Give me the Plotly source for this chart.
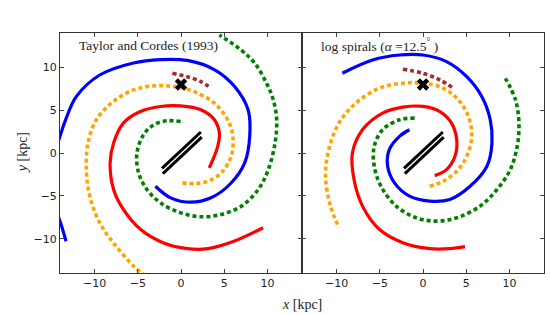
import plotly.graph_objects as go

# ---------------- data (kpc) ----------------
# Left panel: Taylor and Cordes (1993)
TC_BLUE_X = [-2.96, -1.2, 1.13, 3.47, 5.8, 7.37, 7.95, 7.76, 6.2, 3.9, 0.74, -2.4, -5.5, -9.4, -12.1, -13.3, -14.3, -15.0, -15.1, -14.8, -14.07, -13.3]
TC_BLUE_Y = [-3.88, -5.23, -5.74, -5.23, -3.5, -1.16, 1.94, 5.04, 7.75, 9.7, 10.8, 10.9, 10.5, 9.1, 6.6, 4.0, 1.0, -1.5, -4.0, -6.0, -7.75, -10.3]
TC_RED_X = [3.27, 4.25, 4.44, 3.86, 2.3, -0.04, -2.38, -4.7, -6.67, -7.8, -8.2, -7.8, -6.67, -4.7, -2.0, 0.74, 3.08, 6.2, 9.5]
TC_RED_Y = [-1.74, 0.78, 2.33, 3.88, 5.04, 5.5, 5.43, 4.84, 3.49, 1.16, -1.16, -4.26, -6.59, -8.9, -10.5, -11.16, -11.16, -10.27, -8.72]
TC_ORANGE_X = [0.16, 1.52, 3.08, 4.64, 5.8, 6.0, 5.4, 3.86, 1.52, -0.82, -3.16, -5.5, -7.84, -9.8, -10.76, -10.95, -10.56, -9.4, -7.84, -5.5, -4.33]
TC_ORANGE_Y = [-3.49, -3.57, -3.3, -2.33, -0.39, 1.94, 3.88, 5.81, 7.17, 7.75, 7.83, 7.36, 6.0, 3.88, 1.16, -1.94, -5.04, -8.14, -10.47, -13.18, -14.15]
TC_GREEN_X = [-0.04, -1.6, -3.16, -4.33, -5.1, -4.9, -3.94, -2.38, -0.04, 2.3, 4.64, 6.98, 8.93, 10.1, 10.88, 11.07, 10.68, 9.9, 8.54, 6.98, 4.44]
TC_GREEN_Y = [3.68, 3.76, 3.29, 2.13, 0.0, -2.33, -4.26, -5.81, -6.98, -7.44, -7.17, -6.2, -4.26, -1.94, 1.16, 3.88, 6.2, 8.14, 10.47, 12.0, 13.76]
TC_BROWN_X = [-1.0, 0.74, 2.3, 3.47]
TC_BROWN_Y = [9.3, 8.9, 8.33, 7.56]

# Right panel: log spirals (alpha = 12.5 deg)
LS_BLUE_X = [-1.56, -2.72, -3.9, -4.09, -3.3, -1.56, 0.78, 3.1, 5.45, 7.4, 7.98, 7.78, 6.8, 5.06, 2.72, 0.0, -2.72, -5.84, -9.34]
LS_BLUE_Y = [2.71, 1.94, 0.39, -1.55, -3.49, -5.04, -5.62, -5.43, -3.88, -1.55, 1.16, 3.88, 6.59, 8.9, 10.66, 11.43, 11.43, 10.85, 9.3]
LS_RED_X = [1.36, 2.72, 3.7, 3.9, 3.3, 1.95, 0.0, -2.33, -4.67, -7.0, -8.17, -7.98, -7.0, -5.06, -2.33, 0.78, 3.1, 4.86]
LS_RED_Y = [-2.64, -1.94, -0.39, 1.55, 3.49, 4.84, 5.43, 5.35, 4.65, 2.71, 0.0, -3.1, -6.2, -8.9, -10.47, -11.16, -11.16, -10.93]
LS_ORANGE_X = [0.78, 2.33, 3.9, 5.06, 5.64, 5.25, 4.09, 2.33, 0.0, -2.33, -5.06, -7.78, -9.73, -10.9, -11.28, -10.7, -9.73]
LS_ORANGE_Y = [-3.88, -3.3, -2.13, -0.39, 1.94, 4.26, 6.2, 7.56, 8.14, 8.14, 7.56, 5.81, 3.49, 0.39, -2.71, -6.2, -8.72]
LS_GREEN_X = [-0.97, -2.72, -4.67, -5.64, -5.64, -4.86, -3.1, -0.78, 1.56, 3.9, 6.6, 8.56, 10.1, 10.9, 11.1, 10.7, 9.53]
LS_GREEN_Y = [4.07, 3.88, 2.71, 0.78, -1.55, -3.88, -6.2, -7.56, -7.95, -7.56, -6.2, -4.26, -1.94, 0.78, 3.49, 6.2, 8.72]
LS_BROWN_X = [-2.33, 0.0, 1.95, 3.5]
LS_BROWN_Y = [9.77, 9.3, 8.53, 7.56]

# Central bar (two parallel edges) and Sun position
BAR_A_X = [-2.2, 2.3]
BAR_A_Y = [-1.8, 2.45]
BAR_B_X = [-2.1, 2.4]
BAR_B_Y = [-2.4, 1.85]
SUN_X = [0.0]
SUN_Y = [8.0]

PANEL_TITLES = ["Taylor and Cordes (1993)", "log spirals (<i>α</i> =12.5<sup>°</sup> )"]
TICKS = [-10, -5, 0, 5, 10]

# ---------------- figure ----------------
fig = go.Figure()

panels = [
    ("x", "y", [(TC_BLUE_X, TC_BLUE_Y, "blue", "solid"),
                (TC_RED_X, TC_RED_Y, "red", "solid"),
                (TC_ORANGE_X, TC_ORANGE_Y, "orange", "dash"),
                (TC_GREEN_X, TC_GREEN_Y, "green", "dash"),
                (TC_BROWN_X, TC_BROWN_Y, "brown", "dash")]),
    ("x2", "y2", [(LS_BLUE_X, LS_BLUE_Y, "blue", "solid"),
                  (LS_RED_X, LS_RED_Y, "red", "solid"),
                  (LS_ORANGE_X, LS_ORANGE_Y, "orange", "dash"),
                  (LS_GREEN_X, LS_GREEN_Y, "green", "dash"),
                  (LS_BROWN_X, LS_BROWN_Y, "brown", "dash")]),
]

for xa, ya, arms in panels:
    for xs, ys, col, style in arms:
        fig.add_trace(go.Scatter(
            x=xs, y=ys, xaxis=xa, yaxis=ya, mode="lines",
            line=dict(color=col, width=3.2 if style == "solid" else 3.6,
                      shape="spline", smoothing=1.0,
                      dash="solid" if style == "solid" else "4px,3px"),
            showlegend=False, hoverinfo="skip"))
    for bx, by in [(BAR_A_X, BAR_A_Y), (BAR_B_X, BAR_B_Y)]:
        fig.add_trace(go.Scatter(
            x=bx, y=by, xaxis=xa, yaxis=ya, mode="lines",
            line=dict(color="black", width=3.0),
            showlegend=False, hoverinfo="skip"))
    fig.add_trace(go.Scatter(
        x=SUN_X, y=SUN_Y, xaxis=xa, yaxis=ya, mode="markers",
        marker=dict(symbol="x", size=11, color="black",
                    line=dict(width=0)),
        showlegend=False, hoverinfo="skip"))

axis_common = dict(
    range=[-14, 14], tickvals=TICKS, ticks="inside", ticklen=4,
    tickcolor="#444", showline=True, linecolor="#333", linewidth=1,
    mirror="ticks", showgrid=False, zeroline=False,
    tickfont=dict(family="DejaVu Sans", size=11, color="#222"),
)

fig.update_layout(
    width=550, height=315,
    margin=dict(l=60, r=6, t=33, b=42),
    paper_bgcolor="white", plot_bgcolor="white",
    xaxis=dict(domain=[0, 0.5], anchor="y", **axis_common),
    xaxis2=dict(domain=[0.5, 1.0], anchor="y2", **axis_common),
    yaxis=dict(domain=[0, 1], anchor="x", **axis_common),
    yaxis2=dict(domain=[0, 1], anchor="x2", showticklabels=False, **axis_common),
)
fig.update_layout(
    annotations=[
        dict(text=PANEL_TITLES[0], xref="x domain", yref="y domain",
             x=0.072, y=0.95, xanchor="left", yanchor="middle",
             showarrow=False,
             font=dict(family="Liberation Serif", size=13.5, color="#222")),
        dict(text=PANEL_TITLES[1], xref="x2 domain", yref="y2 domain",
             x=0.07, y=0.95, xanchor="left", yanchor="middle",
             showarrow=False,
             font=dict(family="Liberation Serif", size=13.5, color="#222")),
        dict(text="<i>x</i> [kpc]", xref="paper", yref="paper",
             x=0.5, y=-0.09, xanchor="center", yanchor="top",
             showarrow=False,
             font=dict(family="Liberation Serif", size=14, color="#222")),
        dict(text="<i>y</i> [kpc]", xref="paper", yref="paper",
             x=-0.078, y=0.5, xanchor="center", yanchor="middle",
             textangle=-90, showarrow=False,
             font=dict(family="Liberation Serif", size=14, color="#222")),
    ]
)

fig.write_html("out.html",
               config={"displayModeBar": False},
               post_script="document.body.style.margin='0';document.body.style.padding='0';")
